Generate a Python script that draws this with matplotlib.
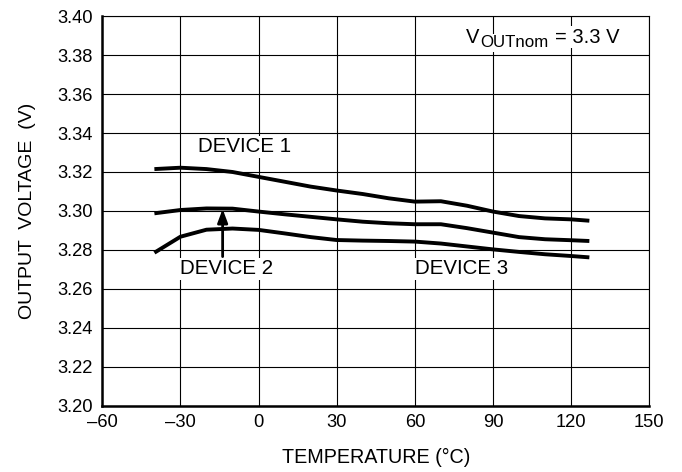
import numpy as np
import matplotlib
matplotlib.use("Agg")
import matplotlib.pyplot as plt

plt.rcParams['font.family'] = ['Liberation Sans', 'DejaVu Sans']

# temperatures (deg C)
temps = [-40, -30, -20, -10, 0, 10, 20, 30, 40, 50, 60, 70, 80, 90, 100, 110, 120, 127]

device1 = [3.3215, 3.3222, 3.3215, 3.3200, 3.3175, 3.3150, 3.3125, 3.3105, 3.3087,
           3.3065, 3.3048, 3.3050, 3.3027, 3.2997, 3.2974, 3.2962, 3.2957, 3.2950]
device2 = [3.2988, 3.3005, 3.3013, 3.3012, 3.2997, 3.2983, 3.2970, 3.2957, 3.2945,
           3.2937, 3.2932, 3.2932, 3.2912, 3.2889, 3.2866, 3.2855, 3.2850, 3.2846]
device3 = [3.2786, 3.2868, 3.2904, 3.2910, 3.2903, 3.2885, 3.2866, 3.2851, 3.2848,
           3.2846, 3.2843, 3.2833, 3.2818, 3.2803, 3.2790, 3.2778, 3.2769, 3.2762]

xticks = [-60, -30, 0, 30, 60, 90, 120, 150]
xtick_labels = ['\u201360', '\u201330', '0', '30', '60', '90', '120', '150']
yticks = [3.20, 3.22, 3.24, 3.26, 3.28, 3.30, 3.32, 3.34, 3.36, 3.38, 3.40]

fig = plt.figure(figsize=(6.82, 4.72), dpi=100)
ax = fig.add_axes([0.150, 0.140, 0.802, 0.826])

for series in (device1, device2, device3):
    ax.plot(temps, series, color='black', lw=2.8, solid_capstyle='butt',
            solid_joinstyle='round', zorder=3)

ax.set_xlim(-60, 150)
ax.set_ylim(3.20, 3.40)
ax.set_xticks(xticks)
ax.set_xticklabels(xtick_labels)
ax.set_yticks(yticks)
ax.set_yticklabels(['%.2f' % v for v in yticks])
ax.tick_params(length=0, labelsize=13.2)
ax.tick_params(axis='y', pad=7)
ax.tick_params(axis='x', pad=6)
ax.grid(True, color='black', lw=0.8)
ax.set_axisbelow(True)

for side in ('left', 'bottom'):
    ax.spines[side].set_linewidth(1.8)
for side in ('top', 'right'):
    ax.spines[side].set_linewidth(0.8)

ax.set_xlabel('TEMPERATURE (\u00b0C)', fontsize=14.2)
ax.xaxis.set_label_coords(0.5, -0.108)
ax.set_ylabel('OUTPUT  VOLTAGE  (V)', fontsize=14)
ax.yaxis.set_label_coords(-0.122, 0.5)

white = dict(facecolor='white', edgecolor='none', pad=1)
ax.text(-5.4, 3.333, 'DEVICE 1', fontsize=14.8, ha='center', va='center', bbox=white)
ax.text(-12.3, 3.2703, 'DEVICE 2', fontsize=14.8, ha='center', va='center', bbox=white)
ax.text(78, 3.2703, 'DEVICE 3', fontsize=14.8, ha='center', va='center', bbox=white)
ax.annotate('', xy=(-13.8, 3.3010), xytext=(-13.8, 3.2766),
            arrowprops=dict(arrowstyle='-|>,head_length=0.8,head_width=0.3',
                            color='black', lw=2, shrinkA=0, shrinkB=0), zorder=4)

# V_OUTnom note, subscript nearly full size as in the original
note_xy = (79.6, 3.3863)
ax.annotate('OUTnom', xy=note_xy, xytext=(10.2, -3.3), textcoords='offset points',
            fontsize=12.2, ha='left', va='baseline', bbox=white)
ax.annotate('V', xy=note_xy, xytext=(0, 0), textcoords='offset points',
            fontsize=14.5, ha='left', va='baseline')
ax.annotate('= 3.3 V', xy=note_xy, xytext=(64.5, 0), textcoords='offset points',
            fontsize=14.5, ha='left', va='baseline', bbox=white)

fig.savefig('out.png', dpi=100)
